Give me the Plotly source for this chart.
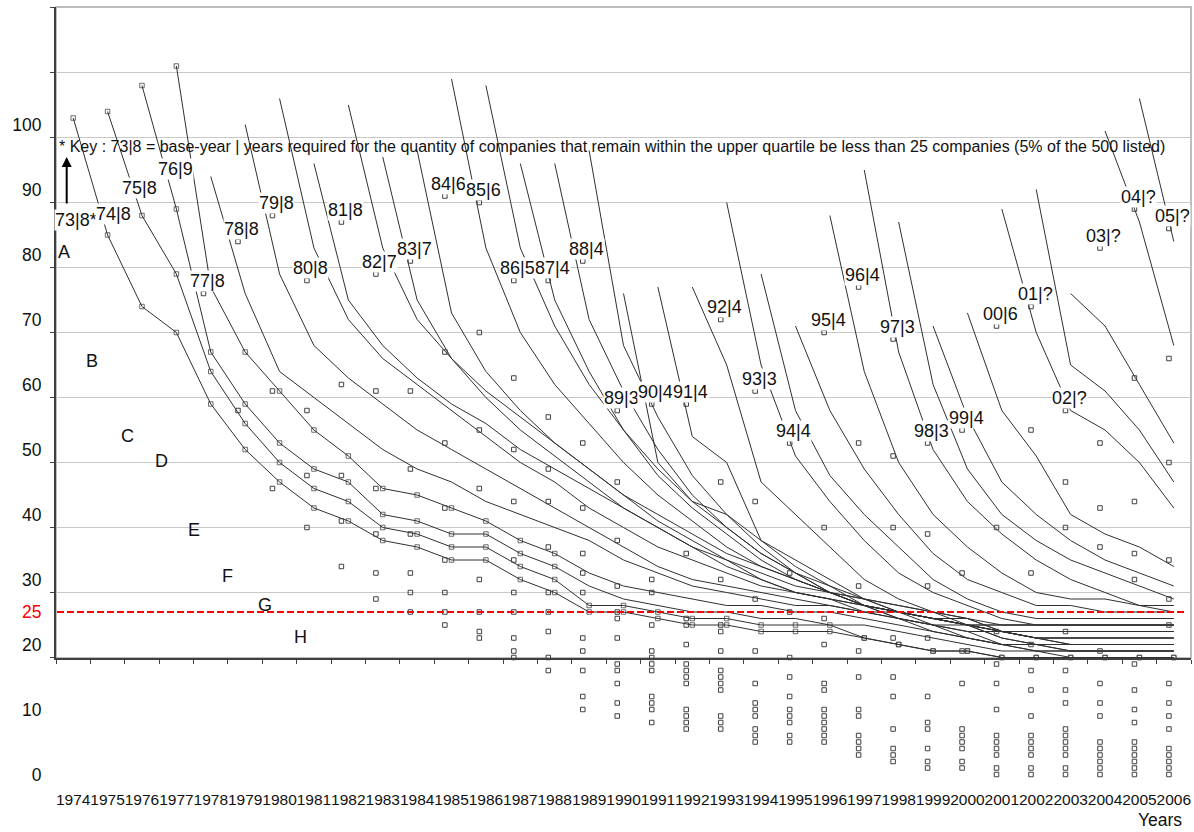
import plotly.graph_objects as go

FONT = "Liberation Sans, Arial, sans-serif"
W, H = 1194, 832

years = list(range(1974, 2007))
year_labels = [str(y) for y in years]

# ---- cohort lines (value per year, starting the year after the base year) ----
line_1973 = [101, 83, 72, 68, 57, 50, 45, 41, 39, 36, 35, 33, 33, 30, 28, 25, 25, 24, 23, 23, 22, 22, 22, 21, 20, 19, 19, 18, 18, 18, 18, 18, 18]
line_1974 = [102, 86, 77, 62, 54, 48, 44, 42, 38, 37, 35, 35, 32, 30, 26, 26, 25, 24, 24, 23, 23, 23, 21, 20, 19, 19, 18, 18, 18, 18, 18, 18]
line_1975 = [106, 87, 65, 57, 51, 47, 45, 40, 39, 37, 37, 34, 32, 29, 27, 26, 25, 25, 24, 24, 23, 23, 22, 21, 20, 19, 19, 19, 19, 19, 19]
line_1976 = [109, 75, 65, 59, 53, 49, 44, 43, 41, 39, 36, 34, 31, 29, 28, 27, 26, 26, 25, 25, 24, 23, 22, 21, 20, 20, 20, 20, 20, 20]
line_1977 = [92, 74, 62, 58, 54, 50, 47, 45, 42, 40, 38, 36, 33, 31, 29, 28, 27, 26, 26, 25, 25, 24, 23, 22, 21, 21, 21, 21, 21]
line_1978 = [100, 77, 66, 61, 57, 53, 50, 47, 44, 41, 38, 35, 32, 30, 29, 28, 27, 26, 25, 24, 23, 22, 22, 22, 22, 22, 22, 22]
line_1979 = [104, 81, 70, 64, 60, 56, 52, 48, 45, 41, 38, 35, 33, 31, 29, 28, 27, 25, 24, 23, 23, 23, 23, 23, 23, 23, 23]
line_1980 = [94, 73, 66, 61, 57, 54, 50, 47, 44, 41, 38, 35, 33, 31, 29, 28, 26, 25, 24, 24, 23, 23, 23, 23, 23, 23]
line_1981 = [103, 81, 70, 64, 59, 55, 51, 47, 43, 40, 37, 34, 32, 30, 28, 27, 25, 24, 23, 23, 23, 23, 23, 23, 23]
line_1982 = [95, 73, 64, 58, 53, 49, 45, 41, 38, 35, 32, 30, 28, 27, 26, 25, 24, 23, 22, 22, 22, 22, 22, 22]
line_1983 = [96, 71, 62, 56, 51, 47, 43, 39, 36, 33, 30, 28, 27, 26, 25, 24, 23, 22, 21, 21, 21, 21, 21]
line_1984 = [107, 81, 68, 60, 54, 48, 43, 39, 35, 32, 30, 28, 27, 26, 25, 24, 22, 21, 20, 20, 20, 20]
line_1985 = [106, 81, 69, 60, 53, 47, 42, 38, 34, 31, 29, 27, 26, 25, 24, 22, 21, 20, 20, 20, 20]
line_1986 = [94, 73, 62, 53, 46, 41, 37, 33, 30, 28, 26, 25, 24, 23, 21, 20, 19, 19, 19, 19]
line_1987 = [94, 70, 59, 50, 43, 38, 34, 31, 28, 26, 25, 24, 23, 21, 20, 19, 19, 19, 19]
line_1988 = [96, 66, 55, 46, 40, 35, 31, 28, 26, 24, 23, 22, 20, 19, 18, 18, 18, 18]
line_1989 = [74, 48, 42, 40, 36, 33, 30, 27, 25, 23, 21, 20, 19, 19, 19, 19, 19]
line_1990 = [75, 52, 48, 36, 32, 29, 26, 24, 22, 21, 20, 20, 20, 20, 20, 20]
line_1991 = [75, 63, 45, 40, 35, 30, 27, 25, 23, 22, 21, 21, 21, 21, 21]
line_1992 = [88, 63, 49, 42, 36, 31, 28, 26, 24, 23, 23, 23, 23, 23]
line_1993 = [77, 56, 46, 40, 35, 30, 27, 25, 24, 24, 24, 24, 24]
line_1994 = [69, 56, 47, 40, 34, 30, 28, 26, 26, 25, 25, 25]
line_1995 = [86, 62, 48, 40, 35, 31, 28, 27, 27, 26, 26]
line_1996 = [93, 65, 50, 42, 37, 33, 30, 28, 26, 25]
line_1997 = [85, 60, 47, 40, 36, 33, 31, 29, 27]
line_1998 = [69, 55, 45, 40, 36, 33, 31, 29]
line_1999 = [71, 56, 49, 40, 37, 35, 32]
line_2000 = [87, 68, 56, 53, 48, 41]
line_2001 = [90, 63, 59, 53, 45]
line_2002 = [74, 69, 60, 51]
line_2003 = [99, 85, 66]
line_2004 = [104, 82]

cohort_lines = [line_1973, line_1974, line_1975, line_1976, line_1977, line_1978,
                line_1979, line_1980, line_1981, line_1982, line_1983, line_1984,
                line_1985, line_1986, line_1987, line_1988, line_1989, line_1990,
                line_1991, line_1992, line_1993, line_1994, line_1995, line_1996,
                line_1997, line_1998, line_1999, line_2000, line_2001, line_2002,
                line_2003, line_2004]
cohorts = list(range(1973, 2006))
years_required = ['8', '8', '8', '9', '8', '8', '8', '8', '8', '7', '7', '6', '6',
                  '5', '4', '4', '3', '4', '4', '4', '3', '4', '4', '4', '3', '3',
                  '4', '6', '?', '?', '?', '?', '?']
marker_lines = 4          # the oldest cohorts carry square markers
marker_points = [33, 32, 13, 12]

# ---- scattered squares (per year, first one = base value of the new cohort) ----
sq_1978 = [74]
sq_1979 = [82, 56]
sq_1980 = [86, 59, 44]
sq_1981 = [76, 56, 46, 38]
sq_1982 = [85, 60, 46, 39, 32]
sq_1983 = [77, 59, 44, 37, 31, 27]
sq_1984 = [79, 59, 47, 37, 31, 28, 25]
sq_1985 = [89, 65, 51, 41, 33, 28, 25, 23]
sq_1986 = [88, 68, 53, 44, 30, 25, 22, 21]
sq_1987 = [76, 61, 50, 42, 33, 28, 25, 21, 19, 18]
sq_1988 = [76, 55, 47, 42, 35, 28, 25, 22, 18, 16]
sq_1989 = [79, 51, 41, 34, 31, 28, 21, 19, 16, 12, 10]
sq_1990 = [56, 45, 36, 29, 25, 24, 21, 17, 16, 14, 11, 9]
sq_1991 = [57, 30, 28, 23, 19, 18, 17, 16, 12, 11, 10, 8]
sq_1992 = [57, 34, 24, 23, 20, 17, 16, 15, 14, 10, 9, 8, 7]
sq_1993 = [70, 45, 30, 23, 22, 19, 16, 15, 14, 13, 9, 8, 7]
sq_1994 = [59, 42, 27, 19, 14, 11, 10, 9, 7, 6, 5]
sq_1995 = [51, 31, 25, 18, 15, 12, 10, 9, 8, 6, 5]
sq_1996 = [68, 38, 24, 20, 14, 13, 10, 9, 8, 7, 6, 5]
sq_1997 = [75, 51, 29, 19, 15, 10, 9, 6, 5, 4, 3]
sq_1998 = [67, 49, 38, 21, 15, 12, 7, 4, 3, 2]
sq_1999 = [51, 37, 29, 21, 12, 8, 7, 4, 2, 1]
sq_2000 = [53, 31, 19, 14, 7, 6, 5, 4, 2, 1]
sq_2001 = [69, 38, 22, 17, 14, 10, 6, 5, 4, 3, 1, 0]
sq_2002 = [72, 53, 31, 20, 16, 13, 9, 6, 5, 4, 3, 1, 0]
sq_2003 = [56, 45, 38, 22, 16, 13, 11, 7, 6, 5, 4, 3, 1, 0]
sq_2004 = [81, 51, 41, 35, 19, 14, 11, 9, 5, 4, 3, 2, 1, 0]
sq_2005 = [87, 61, 42, 34, 30, 17, 13, 10, 8, 5, 4, 3, 2, 1, 0]
sq_2006 = [84, 64, 48, 33, 27, 23, 14, 11, 9, 7, 4, 3, 2, 1, 0]

square_years = list(range(1978, 2007))
square_cols = [sq_1978, sq_1979, sq_1980, sq_1981, sq_1982, sq_1983, sq_1984, sq_1985,
               sq_1986, sq_1987, sq_1988, sq_1989, sq_1990, sq_1991, sq_1992, sq_1993,
               sq_1994, sq_1995, sq_1996, sq_1997, sq_1998, sq_1999, sq_2000, sq_2001,
               sq_2002, sq_2003, sq_2004, sq_2005, sq_2006]

# labels of the four oldest cohorts sit apart from their points
early_label_x = [1974.30, 1975.40, 1976.13, 1977.20]
early_label_y = [85.3, 86.2, 90.2, 93.2]

region_letters = ['A', 'B', 'C', 'D', 'E', 'F', 'G', 'H']
letter_x = [1973.95, 1974.77, 1975.81, 1976.77, 1977.73, 1978.71, 1979.78, 1980.80]
letter_y = [80.4, 63.6, 52.1, 48.2, 37.6, 30.5, 26.1, 21.2]

y_tick_vals = [0, 10, 20, 25, 30, 40, 50, 60, 70, 80, 90, 100]
threshold = 25

key_text = ("* Key : 73|8 = base-year | years required for the quantity of companies "
            "that remain within the upper quartile be less than 25 companies (5% of the 500 listed)")

# ---------------- figure ----------------
def px_x(p):
    return p / W

def px_y(p):
    return (H - p) / H

LINE_C = "#303030"
fig = go.Figure()

for k, (c, vals) in enumerate(zip(cohorts, cohort_lines)):
    start = c + 1
    xs = list(range(start, start + len(vals)))
    if k < marker_lines:
        n = marker_points[k]
        sizes = [4.5 if j < n else 0 for j in range(len(vals))]
        fig.add_trace(go.Scatter(x=xs, y=vals, mode="lines+markers",
                                 line=dict(color=LINE_C, width=1),
                                 marker=dict(symbol="square-open", size=sizes, color=LINE_C,
                                             line=dict(width=1, color=LINE_C)),
                                 xaxis="x", yaxis="y", hoverinfo="skip", showlegend=False,
                                 cliponaxis=False))
    else:
        fig.add_trace(go.Scatter(x=xs, y=vals, mode="lines",
                                 line=dict(color=LINE_C, width=1),
                                 xaxis="x", yaxis="y", hoverinfo="skip", showlegend=False))

sx, sy = [], []
for yr, col in zip(square_years, square_cols):
    for v in col:
        sx.append(yr)
        sy.append(v)
fig.add_trace(go.Scatter(x=sx, y=sy, mode="markers",
                         marker=dict(symbol="square-open", size=4.5, color="#404040",
                                     line=dict(width=1, color="#404040")),
                         xaxis="x2", yaxis="y2", hoverinfo="skip", showlegend=False))

# dummy trace carrying the year-label axis
fig.add_trace(go.Scatter(x=years, y=[None] * len(years), mode="markers",
                         xaxis="x3", yaxis="y2", hoverinfo="skip", showlegend=False))

annotations = []
for k, c in enumerate(cohorts):
    txt = f"{c % 100:02d}|{years_required[k]}" + ("*" if k == 0 else "")
    if k < 4:
        annotations.append(dict(x=early_label_x[k], y=early_label_y[k], xref="x2", yref="y2",
                                text=txt, showarrow=False, bgcolor="white", borderpad=0,
                                xanchor="center", yanchor="middle",
                                font=dict(family=FONT, size=18, color="#111")))
    else:
        yr = c + 1
        base = square_cols[square_years.index(yr)][0]
        annotations.append(dict(x=yr, y=base, xref="x2", yref="y2", text=txt,
                                showarrow=False, xshift=4, yshift=12.5, bgcolor="white",
                                xanchor="center", yanchor="middle",
                                borderpad=0, font=dict(family=FONT, size=18, color="#111")))

for t, lx, ly in zip(region_letters, letter_x, letter_y):
    annotations.append(dict(x=lx, y=ly, xref="x2", yref="y2", text=t, showarrow=False,
                            xanchor="center", yanchor="middle",
                            font=dict(family=FONT, size=18, color="#111")))

annotations.append(dict(x=px_x(57), y=px_y(146), xref="paper", yref="paper", text=key_text,
                        showarrow=False, xanchor="left", yanchor="middle",
                        font=dict(family=FONT, size=16, color="#111")))
annotations.append(dict(x=px_x(66.7), y=px_y(157), xref="paper", yref="paper", text="",
                        showarrow=True, ax=0, ay=48, arrowhead=2, arrowsize=1,
                        arrowwidth=2, arrowcolor="black", standoff=0))
annotations.append(dict(x=px_x(1160), y=px_y(820), xref="paper", yref="paper", text="Years",
                        showarrow=False, xanchor="center", yanchor="middle",
                        font=dict(family=FONT, size=17.5, color="#111")))

dom_x = [px_x(56), px_x(1191)]
y_lines_dom = [px_y(658), px_y(7)]
y_sq_dom = [px_y(788), px_y(7)]
# common vertical scale: value v sits at pixel 774.5 - 6.5 v
def v_at(p):
    return (774.5 - p) / 6.5

tick_text = [str(v) if v != threshold else '<span style="color:red">25</span>' for v in y_tick_vals]

fig.update_layout(
    width=W, height=H, margin=dict(l=0, r=0, t=0, b=0),
    paper_bgcolor="white", plot_bgcolor="rgba(0,0,0,0)", showlegend=False,
    font=dict(family=FONT, color="#111"),
    xaxis=dict(domain=dom_x, range=[1973.5, 2006.5], anchor="y", showgrid=False,
               zeroline=False, showline=True, linecolor="#404040", linewidth=1.5,
               ticks="outside", ticklen=4, tickcolor="#404040", tick0=1973.5, dtick=1,
               showticklabels=False),
    yaxis=dict(domain=y_lines_dom, range=[v_at(658), v_at(7)], anchor="x",
               showgrid=True, gridcolor="#c8c8c8", gridwidth=1, zeroline=False,
               showline=True, linecolor="#404040", linewidth=1.5, ticks="outside",
               ticklen=4, tickcolor="#404040", tick0=18, dtick=10, showticklabels=False),
    xaxis2=dict(domain=dom_x, range=[1974 - 0.278, 1974 + 32.64], anchor="y2",
                visible=False),
    yaxis2=dict(domain=y_sq_dom, range=[v_at(788), v_at(7)], anchor="x2",
                showgrid=False, zeroline=False, showline=False, ticks="outside",
                ticklen=10, tickcolor="rgba(0,0,0,0)", tickvals=y_tick_vals,
                ticktext=tick_text, tickfont=dict(family=FONT, size=17.5, color="#111")),
    xaxis3=dict(domain=dom_x, range=[1973.5, 2006.5], anchor="y2",
                showgrid=False, zeroline=False, showline=False, tickangle=0,
                ticks="", tickvals=years, ticktext=year_labels,
                tickfont=dict(family=FONT, size=15.5, color="#111")),
    annotations=annotations,
    shapes=[
        dict(type="rect", xref="x domain", yref="y domain", x0=0, x1=1, y0=0, y1=1,
             line=dict(color="#a8a8a8", width=1.5), layer="below"),
        dict(type="line", xref="paper", yref="y2", x0=px_x(57), x1=px_x(1185),
             y0=threshold, y1=threshold, line=dict(color="red", width=2, dash="7px,3px")),
    ],
)

fig.write_html("out.html", config={"displayModeBar": False},
               post_script="document.body.style.margin='0px';")
